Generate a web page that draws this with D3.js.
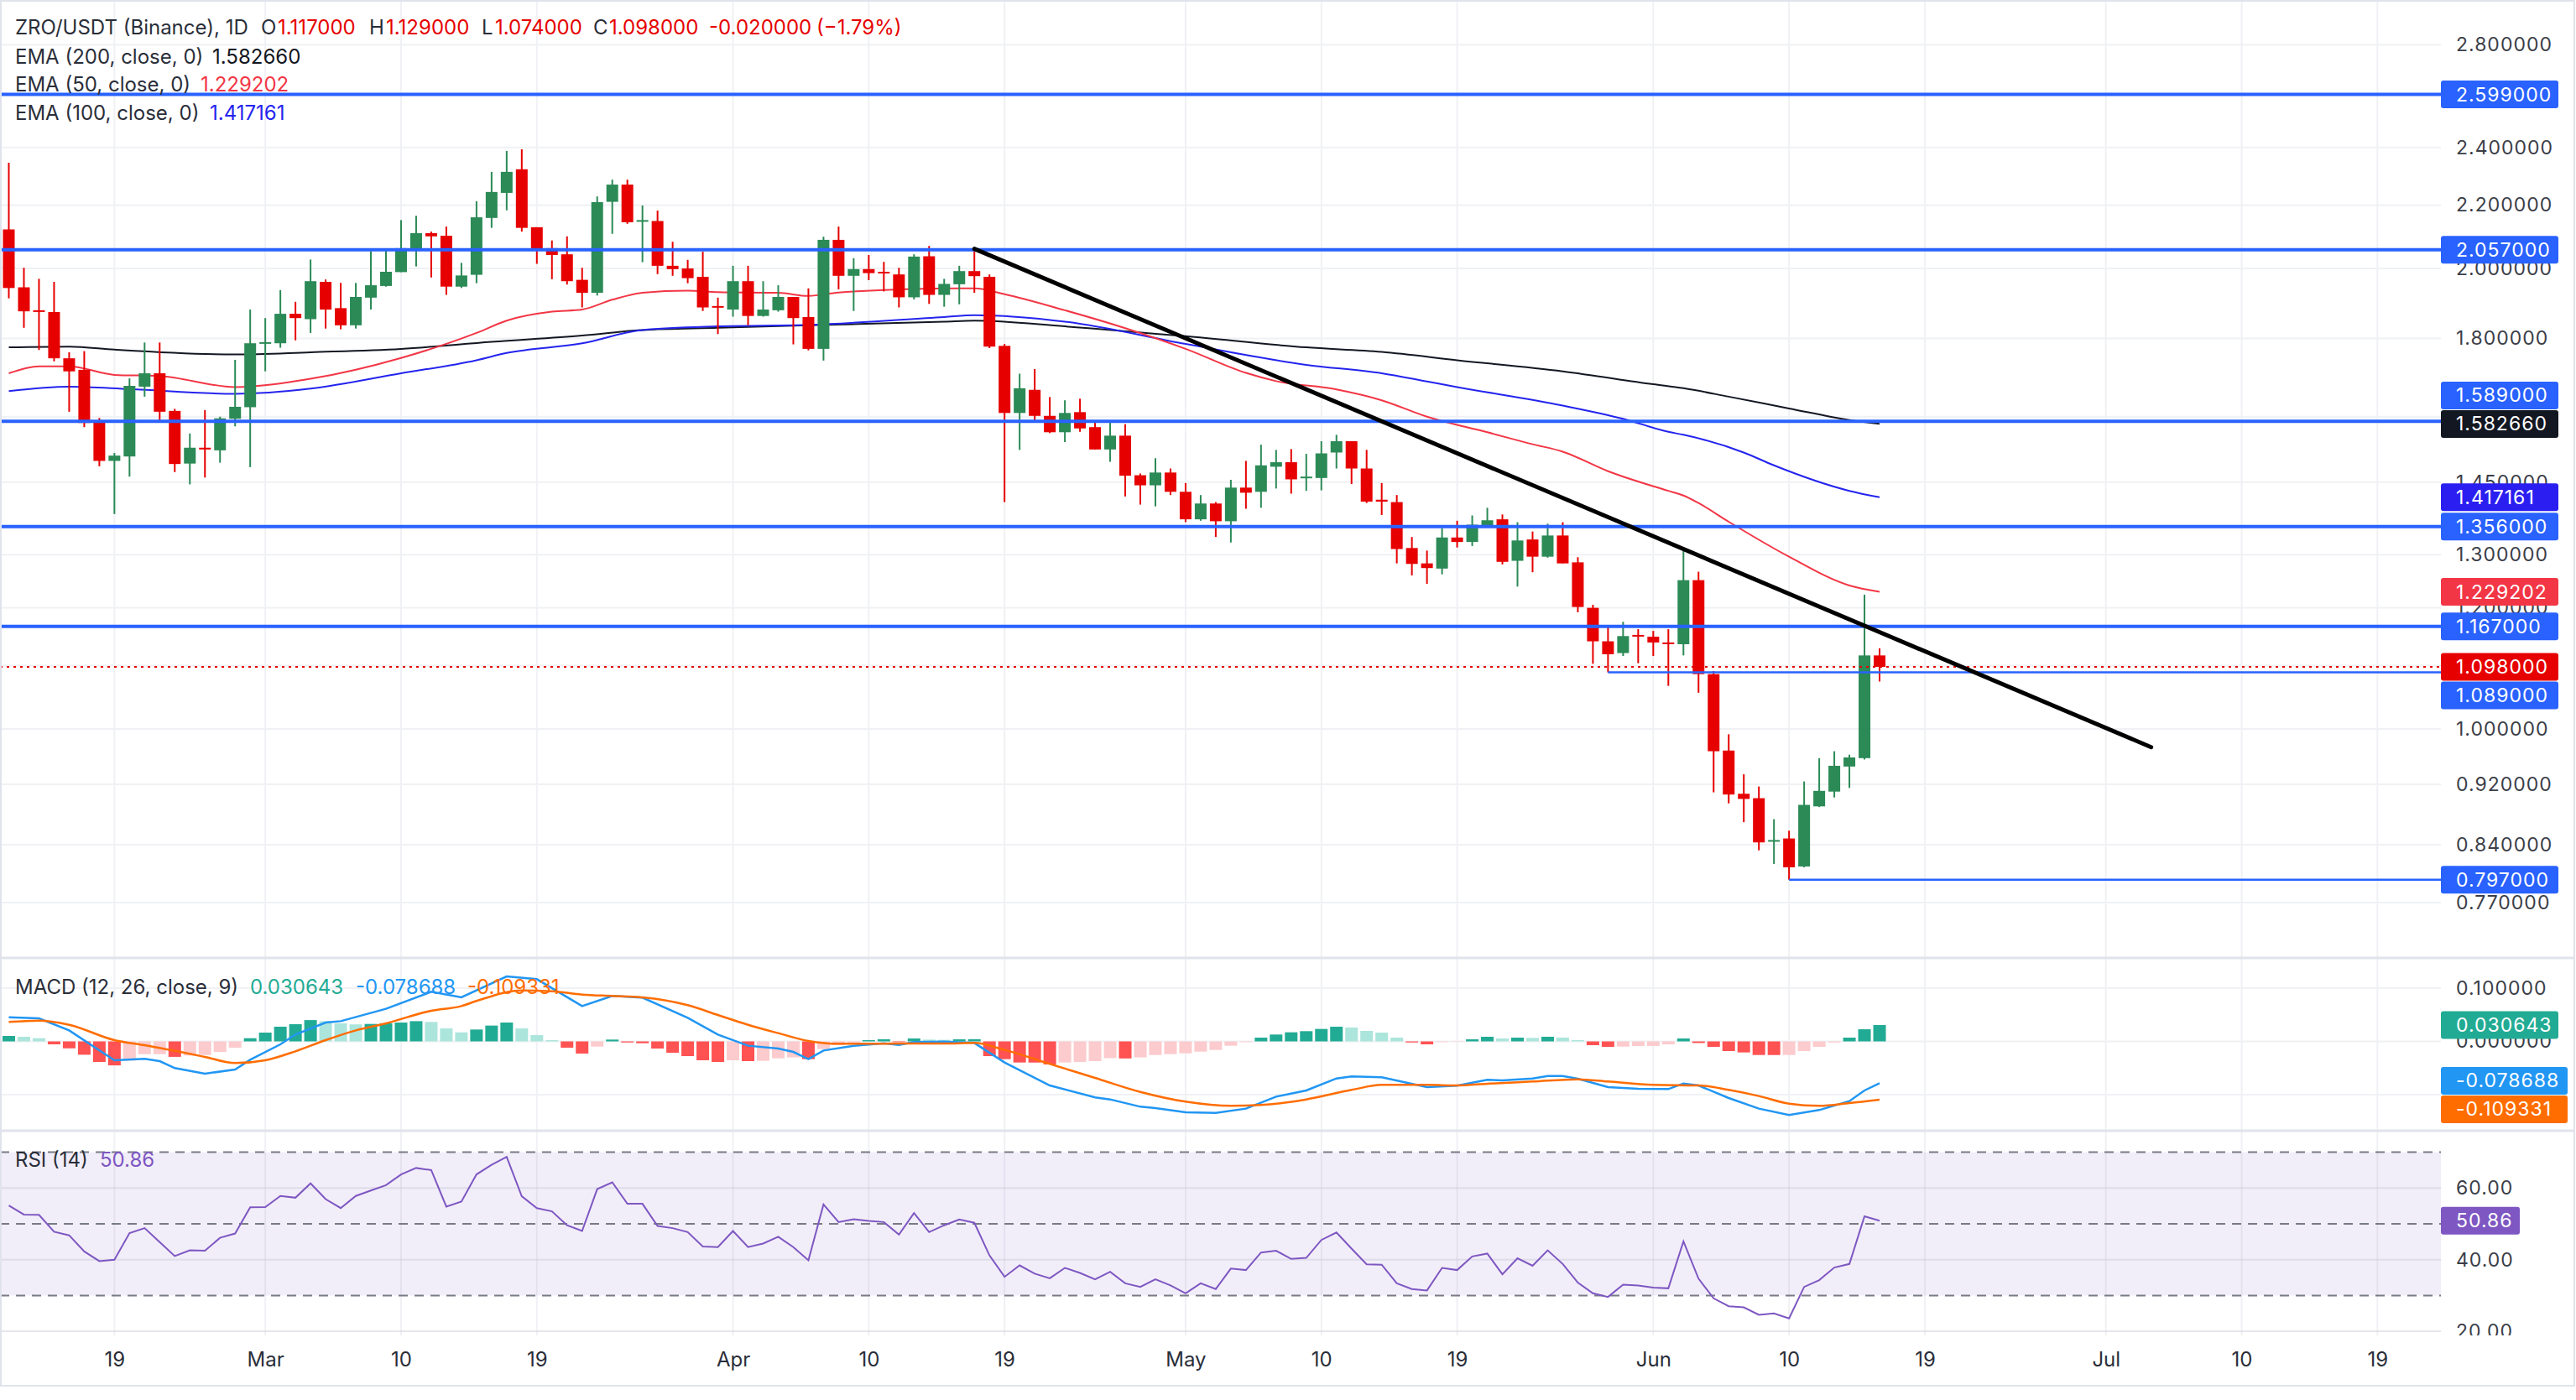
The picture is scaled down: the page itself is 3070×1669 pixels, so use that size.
<!DOCTYPE html>
<html><head><meta charset="utf-8">
<script src="https://cdn.jsdelivr.net/npm/d3@7"></script>
<style>
html,body{margin:0;padding:0;background:#fff;}
svg{display:block;font-family:Inter,"Noto Sans",sans-serif;}
</style></head><body>
<svg id="chart" width="3070" height="1669"></svg>
<script>
// ---------------- DATA ----------------
const startDate = [2025, 1, 12]; // 12 Feb 2025, daily candles
const open  = [2.121,1.944,1.878,1.873,1.747,1.717,1.586,1.497,1.507,1.674,1.708,1.614,1.491,1.527,1.521,1.595,1.623,1.787,1.787,1.868,
1.853,1.960,1.884,1.836,1.914,1.948,1.989,2.060,2.109,2.101,1.946,1.981,2.158,2.241,2.322,2.128,2.062,2.043,1.966,1.928,
2.211,2.269,2.147,2.148,2.008,2.000,1.975,1.890,1.880,1.962,1.862,1.878,1.916,1.859,1.772,2.088,1.978,1.998,1.990,1.982,
1.915,2.037,1.922,1.953,1.992,1.975,1.780,1.609,1.666,1.602,1.563,1.611,1.575,1.523,1.555,1.465,1.443,1.471,1.429,1.371,
1.404,1.367,1.438,1.429,1.484,1.494,1.459,1.459,1.516,1.542,1.480,1.412,1.407,1.313,1.283,1.273,1.334,1.325,1.359,1.371,
1.288,1.330,1.296,1.338,1.285,1.200,1.141,1.121,1.152,1.149,1.139,1.136,1.251,1.086,0.968,0.907,0.901,0.844,0.848,0.813,
0.890,0.910,0.945,0.957,1.117];
const high  = [2.345,2.002,1.969,1.960,1.763,1.766,1.597,1.515,1.695,1.789,1.789,1.619,1.560,1.616,1.600,1.743,1.880,1.856,1.936,1.902,
2.027,1.967,1.957,1.957,2.053,2.056,2.151,2.165,2.114,2.130,2.017,2.213,2.313,2.387,2.393,2.128,2.086,2.099,2.002,2.229,
2.286,2.286,2.199,2.182,2.082,2.026,2.051,1.914,2.008,2.008,1.962,1.950,1.916,1.941,2.098,2.130,2.031,2.041,2.020,2.002,
2.043,2.069,1.969,2.008,2.060,1.982,1.785,1.707,1.719,1.648,1.640,1.644,1.589,1.586,1.582,1.469,1.503,1.480,1.448,1.422,
1.407,1.455,1.497,1.534,1.522,1.524,1.513,1.542,1.557,1.542,1.522,1.448,1.422,1.335,1.308,1.353,1.368,1.379,1.395,1.381,
1.365,1.346,1.362,1.365,1.295,1.2055,1.166,1.175,1.162,1.159,1.162,1.308,1.267,1.091,0.992,0.934,0.917,0.873,0.858,0.924,
0.957,0.967,0.962,1.224,1.129];
const low   = [1.912,1.829,1.769,1.739,1.612,1.575,1.485,1.382,1.462,1.649,1.587,1.472,1.445,1.460,1.493,1.577,1.483,1.713,1.775,1.795,
1.815,1.827,1.825,1.827,1.880,1.946,1.989,2.006,1.973,1.922,1.942,1.956,2.126,2.183,2.114,2.014,1.968,1.952,1.886,1.920,
2.107,2.139,2.019,1.983,1.978,1.956,1.876,1.812,1.860,1.836,1.860,1.874,1.784,1.768,1.741,1.938,1.876,1.965,1.932,1.886,
1.909,1.896,1.888,1.895,1.928,1.774,1.407,1.522,1.588,1.561,1.540,1.564,1.523,1.495,1.419,1.402,1.398,1.422,1.365,1.368,
1.335,1.324,1.393,1.395,1.436,1.425,1.431,1.432,1.480,1.446,1.405,1.380,1.283,1.260,1.244,1.262,1.314,1.317,1.354,1.281,
1.239,1.266,1.294,1.283,1.192,1.103,1.089,1.116,1.104,1.116,1.067,1.117,1.056,0.909,0.894,0.869,0.833,0.816,0.797,0.812,
0.889,0.902,0.915,0.955,1.074];
const close = [1.942,1.875,1.874,1.747,1.713,1.585,1.497,1.509,1.676,1.708,1.612,1.490,1.527,1.523,1.596,1.624,1.787,1.790,1.868,1.856,
1.962,1.880,1.836,1.916,1.950,1.990,2.062,2.109,2.099,1.946,1.979,2.160,2.244,2.313,2.126,2.060,2.041,1.962,1.928,2.210,
2.269,2.144,2.151,2.008,1.998,1.971,1.886,1.886,1.962,1.862,1.880,1.916,1.856,1.772,2.088,1.978,1.998,1.986,1.987,1.915,
2.036,1.922,1.954,1.992,1.977,1.778,1.609,1.670,1.602,1.563,1.609,1.572,1.523,1.555,1.464,1.443,1.471,1.429,1.371,1.404,
1.367,1.438,1.427,1.487,1.494,1.456,1.462,1.514,1.542,1.480,1.408,1.408,1.311,1.282,1.274,1.334,1.325,1.360,1.369,1.286,
1.328,1.296,1.338,1.283,1.2015,1.141,1.119,1.150,1.150,1.139,1.137,1.251,1.086,0.967,0.906,0.900,0.843,0.846,0.812,0.892,
0.911,0.946,0.958,1.117,1.098];

// EMA lines read at sample bars: [bar index, value]
const ema200 = [[0,1.776],[4,1.778],[7,1.770],[15,1.757],[20,1.763],[26,1.772],[32,1.791],[38,1.808],[42,1.823],[47,1.829],[53,1.836],
[62,1.846],[64,1.849],[70,1.833],[78,1.806],[86,1.776],[91,1.764],[96,1.742],[103,1.713],[109,1.680],[111,1.670],[114,1.649],[118,1.620],[122,1.592],[124,1.5827]];
const ema100 = [[0,1.663],[4,1.674],[8,1.668],[15,1.656],[20,1.669],[26,1.708],[31,1.742],[33,1.761],[38,1.787],[42,1.823],[47,1.833],[53,1.837],
[62,1.859],[64,1.864],[70,1.846],[78,1.785],[86,1.730],[91,1.708],[94,1.687],[96,1.673],[103,1.627],[107,1.595],[110,1.564],[111,1.557],[115,1.516],
[117,1.487],[122,1.431],[124,1.4172]];
const ema50 = [[0,1.708],[2,1.726],[4,1.726],[7,1.704],[10,1.701],[15,1.673],[20,1.694],[26,1.748],[31,1.815],[33,1.849],[36,1.874],[38,1.880],
[40,1.908],[42,1.928],[45,1.934],[47,1.930],[51,1.928],[53,1.919],[55,1.929],[63,1.941],[64,1.941],[66,1.924],[70,1.878],[74,1.828],[78,1.772],
[82,1.709],[84,1.688],[88,1.667],[91,1.640],[94,1.600],[98,1.563],[101,1.535],[103,1.518],[106,1.474],[110,1.431],[111,1.421],[112,1.405],
[114,1.366],[118,1.296],[122,1.241],[124,1.2292]];

const hLevels = [2.599, 2.057, 1.589, 1.356, 1.167];
const shortLevels = [[106, 1.089], [118, 0.797]];
const trendLine = [[64, 2.060], [142, 0.973]];
const lastPrice = 1.098;
const priceGrid = [2.8,2.6,2.4,2.2,2.0,1.8,1.6,1.45,1.3,1.2,1.1,1.0,0.92,0.84,0.77];
const priceTickLabels = [2.8,2.4,2.2,2.0,1.8,1.45,1.3,1.2,1.0,0.92,0.84,0.77];

const macdHist = [0.0102,0.0087,0.006,-0.0055,-0.013,-0.025,-0.0386,-0.045,-0.036,-0.024,
-0.024,-0.029,-0.0265,-0.0255,-0.0197,-0.0118,0.006,0.0165,0.0276,0.0323,
0.040,0.038,0.034,0.032,0.0328,0.034,0.0354,0.038,0.0365,0.0244,
0.017,0.0223,0.0297,0.0354,0.0244,0.0118,0.0024,-0.0118,-0.0228,-0.0097,
0.0034,-0.002,-0.0034,-0.0134,-0.0213,-0.0276,-0.0354,-0.0386,-0.0354,-0.037,
-0.0365,-0.0318,-0.030,-0.0333,-0.0144,-0.007,-0.002,0.0024,0.004,-0.0013,
0.0055,0.0034,0.003,0.0039,0.0042,-0.0276,-0.0333,-0.0396,-0.0397,-0.0433,
-0.0396,-0.0386,-0.037,-0.0315,-0.032,-0.030,-0.0255,-0.0239,-0.0223,-0.0192,
-0.016,-0.0081,-0.0013,0.0071,0.0129,0.0171,0.0192,0.0234,0.0276,0.026,
0.0197,0.0165,0.0071,-0.002,-0.0055,-0.0013,-0.0008,0.0039,0.0087,0.0055,
0.0071,0.0065,0.0087,0.0071,0.0024,-0.0071,-0.0102,-0.0097,-0.0087,-0.0085,
-0.0055,0.0055,-0.003,-0.0102,-0.0181,-0.0207,-0.0255,-0.0256,-0.0254,-0.0181,
-0.0102,-0.002,0.0071,0.0228,0.0307];
const macdLine = [[0,0.0454],[2,0.0433],[4,0.0207],[7,-0.0354],[9,-0.0328],[10,-0.037],[11,-0.0501],[13,-0.0606],[15,-0.0528],[16,-0.0344],
[18,-0.0055],[19,0.0129],[21,0.0354],[22,0.038],[25,0.0612],[28,0.0932],[30,0.0827],[33,0.122],[35,0.1168],[38,0.0664],[40,0.0853],[42,0.0822],
[45,0.0444],[47,0.0129],[49,-0.0081],[51,-0.0134],[52,-0.0197],[53,-0.0333],[54,-0.0171],[56,-0.0081],[58,-0.0034],[59,-0.0066],[60,-0.0013],
[62,-0.0003],[64,-0.0029],[66,-0.0396],[69,-0.0827],[72,-0.1052],[73,-0.1089],[75,-0.1226],[76,-0.1252],[78,-0.1331],[80,-0.1341],[82,-0.1262],
[84,-0.1037],[86,-0.0921],[88,-0.0696],[89,-0.0659],[91,-0.0675],[94,-0.0858],[96,-0.0832],[98,-0.0722],[99,-0.0732],[101,-0.0696],[102,-0.0648],
[103,-0.0648],[104,-0.07],[106,-0.0858],[108,-0.089],[110,-0.0895],[111,-0.079],[112,-0.0827],[114,-0.1063],[116,-0.1262],[118,-0.1383],
[120,-0.1289],[122,-0.1121],[123,-0.0921],[124,-0.0787]];
const signalLine = [[0,0.0365],[2,0.0391],[4,0.0312],[7,0.0024],[9,-0.0071],[13,-0.0291],[15,-0.0407],[17,-0.0354],[19,-0.0186],[21,0.0024],
[23,0.0207],[25,0.0339],[28,0.0575],[30,0.0664],[31,0.0759],[34,0.0958],[36,0.0942],[38,0.0879],[40,0.0853],[42,0.0827],[45,0.068],[47,0.0496],
[49,0.0312],[51,0.0155],[53,0.0008],[55,-0.0045],[57,-0.0045],[59,-0.0039],[62,-0.0039],[64,-0.0029],[66,-0.016],[69,-0.0423],[72,-0.0685],
[75,-0.0948],[78,-0.1131],[81,-0.121],[83,-0.1194],[86,-0.1089],[89,-0.0911],[91,-0.0816],[94,-0.0816],[96,-0.0827],[98,-0.0795],[101,-0.0753],
[104,-0.0711],[106,-0.0753],[109,-0.0816],[112,-0.0827],[114,-0.0911],[116,-0.1026],[118,-0.1168],[120,-0.121],[122,-0.1157],[124,-0.1093]];

const rsi = [55.1,52.6,52.5,47.8,46.8,42.3,39.6,40.0,47.4,48.8,
44.9,41.0,42.6,42.5,46.1,47.3,54.6,54.7,57.8,57.3,
61.3,56.9,54.4,57.8,59.3,60.8,63.8,65.6,65.0,54.8,
56.2,63.8,66.5,68.7,57.7,54.4,53.5,49.6,48.0,59.7,
61.6,55.6,55.6,49.4,48.8,47.7,43.7,43.5,48.0,43.5,
44.5,46.4,43.5,39.8,55.4,50.5,51.3,50.8,50.5,47.0,
53.0,47.7,49.6,51.2,50.3,41.2,35.2,38.4,36.1,34.8,
37.7,36.3,34.5,36.6,33.4,32.4,34.5,32.8,30.6,33.4,
31.8,37.5,37.1,42.0,42.5,40.2,40.5,45.5,47.6,43.1,
38.7,38.6,33.4,31.8,31.4,37.7,37.1,40.9,41.7,35.9,
40.4,38.3,42.6,38.8,33.6,30.6,29.6,33.0,32.8,32.2,
32.0,45.1,34.7,29.2,27.0,26.7,24.6,25.0,23.6,32.4,
34.3,37.8,38.8,52.1,50.86];

const timeTicks = [[2,19],[3,1],[3,10],[3,19],[4,1],[4,10],[4,19],[5,1],[5,10],[5,19],[6,1],[6,10],[6,19],[7,1],[7,10],[7,19]];
const monthNames = ["Jan","Feb","Mar","Apr","May","Jun","Jul","Aug","Sep","Oct","Nov","Dec"];

// ---------------- LAYOUT ----------------
const W = 3070, H = 1669, plotR = 2909;
const mainTop = 0, mainBot = 1142, macdTop = 1142, macdBot = 1348, rsiTop = 1348, rsiBot = 1592;
const GREEN = "#2b8a56", RED = "#e60000", LINEBLUE = "#2962ff";
const TXT = "#2a2e39";

const svg = d3.select("#chart");
svg.append("rect").attr("width", W).attr("height", H).attr("fill", "#fff");

const dateOf = i => new Date(Date.UTC(startDate[0], startDate[1], startDate[2] + i));
const x = d3.scaleUtc().domain([dateOf(0), dateOf(open.length - 1)]).range([10.5, 10.5 + 17.98 * (open.length - 1)]);
const xi = i => x(dateOf(i));
const y = d3.scaleLog().domain([Math.exp((869 - mainBot) / 792), Math.exp(869 / 792)]).range([mainBot, mainTop]);
const yM = d3.scaleLinear().domain([-0.1, 0.1]).range([1305, 1178]);
const yR = d3.scaleLinear().domain([30, 70]).range([1544.4, 1373.6]);

const defs = svg.append("defs");
function clip(id, x0, y0, w, h) {
  defs.append("clipPath").attr("id", id).append("rect").attr("x", x0).attr("y", y0).attr("width", w).attr("height", h);
  return `url(#${id})`;
}
const cMain = clip("cmain", 0, mainTop, plotR, mainBot - mainTop);
const cMacd = clip("cmacd", 0, macdTop, plotR, macdBot - macdTop);
const cRsi = clip("crsi", 0, rsiTop, plotR, rsiBot - rsiTop);
const cRsiAx = clip("crsiax", plotR, rsiTop, W - plotR, rsiBot - rsiTop);

// ---------- grid ----------
const grid = svg.append("g");
const tickDates = timeTicks.map(([m, d]) => new Date(Date.UTC(2025, m - 1, d)));
grid.selectAll("line.v").data(tickDates).enter().append("line")
  .attr("x1", d => x(d)).attr("x2", d => x(d)).attr("y1", 0).attr("y2", rsiBot)
  .attr("stroke", "#f0f1f4").attr("stroke-width", 2);
grid.selectAll("line.hp").data(priceGrid).enter().append("line")
  .attr("x1", 0).attr("x2", plotR).attr("y1", d => y(d)).attr("y2", d => y(d))
  .attr("stroke", "#f0f1f4").attr("stroke-width", 2);
grid.selectAll("line.hm").data([0.1, 0, -0.1]).enter().append("line")
  .attr("x1", 0).attr("x2", plotR).attr("y1", d => yM(d)).attr("y2", d => yM(d))
  .attr("stroke", "#f0f1f4").attr("stroke-width", 2);

// ---------- main pane ----------
const main = svg.append("g").attr("clip-path", cMain);
const lineGen = (ys) => d3.line().x(d => xi(d[0])).y(d => ys(d[1])).curve(d3.curveMonotoneX);
main.append("path").datum(ema200).attr("d", lineGen(y)).attr("fill", "none").attr("stroke", "#131722").attr("stroke-width", 2);
main.append("path").datum(ema100).attr("d", lineGen(y)).attr("fill", "none").attr("stroke", "#2424ee").attr("stroke-width", 2);
main.append("path").datum(ema50).attr("d", lineGen(y)).attr("fill", "none").attr("stroke", "#f23645").attr("stroke-width", 2);

const idx = d3.range(open.length);
const cg = main.append("g");
cg.selectAll("line.w").data(idx).enter().append("line")
  .attr("x1", i => xi(i)).attr("x2", i => xi(i))
  .attr("y1", i => y(high[i])).attr("y2", i => y(low[i]))
  .attr("stroke", i => close[i] >= open[i] ? GREEN : RED).attr("stroke-width", 2);
cg.selectAll("rect.b").data(idx).enter().append("rect")
  .attr("x", i => xi(i) - 7).attr("width", 14)
  .attr("y", i => y(Math.max(open[i], close[i])))
  .attr("height", i => Math.max(2, y(Math.min(open[i], close[i])) - y(Math.max(open[i], close[i]))))
  .attr("fill", i => close[i] >= open[i] ? GREEN : RED);

// current price dotted line
main.append("line").attr("x1", 0).attr("x2", plotR).attr("y1", y(lastPrice)).attr("y2", y(lastPrice))
  .attr("stroke", RED).attr("stroke-width", 2).attr("stroke-dasharray", "3,5");
// horizontal levels
main.selectAll("line.lv").data(hLevels).enter().append("line")
  .attr("x1", 0).attr("x2", plotR).attr("y1", d => y(d)).attr("y2", d => y(d))
  .attr("stroke", LINEBLUE).attr("stroke-width", 4);
main.selectAll("line.sl").data(shortLevels).enter().append("line")
  .attr("x1", d => xi(d[0])).attr("x2", plotR).attr("y1", d => y(d[1])).attr("y2", d => y(d[1]))
  .attr("stroke", LINEBLUE).attr("stroke-width", 2.5);
// trend line
main.append("line")
  .attr("x1", xi(trendLine[0][0])).attr("y1", y(trendLine[0][1]))
  .attr("x2", xi(trendLine[1][0])).attr("y2", y(trendLine[1][1]))
  .attr("stroke", "#000").attr("stroke-width", 5).attr("stroke-linecap", "round");

// ---------- MACD pane ----------
const mp = svg.append("g").attr("clip-path", cMacd);
mp.selectAll("rect.h").data(idx).enter().append("rect")
  .attr("x", i => xi(i) - 7.5).attr("width", 15)
  .attr("y", i => Math.min(yM(0), yM(macdHist[i])))
  .attr("height", i => Math.abs(yM(macdHist[i]) - yM(0)))
  .attr("fill", i => {
    const v = macdHist[i], p = i > 0 ? macdHist[i - 1] : v;
    if (v >= 0) return v >= p ? "#22ab94" : "#ace5dc";
    return v < p ? "#ff5252" : "#fccbcd";
  });
mp.append("path").datum(macdLine).attr("d", d3.line().x(d => xi(d[0])).y(d => yM(d[1])))
  .attr("fill", "none").attr("stroke", "#2196f3").attr("stroke-width", 2.5);
mp.append("path").datum(signalLine).attr("d", lineGen(yM))
  .attr("fill", "none").attr("stroke", "#ff6d00").attr("stroke-width", 2.5);

// ---------- RSI pane ----------
const rp = svg.append("g").attr("clip-path", cRsi);
rp.append("rect").attr("x", 0).attr("width", plotR).attr("y", yR(70)).attr("height", yR(30) - yR(70)).attr("fill", "rgba(126,87,194,0.1)");
rp.selectAll("line.rg").data([60, 40, 20]).enter().append("line")
  .attr("x1", 0).attr("x2", plotR).attr("y1", d => yR(d)).attr("y2", d => yR(d))
  .attr("stroke", "rgba(200,200,215,0.45)").attr("stroke-width", 2);
rp.selectAll("line.rd").data([70, 50, 30]).enter().append("line")
  .attr("x1", 0).attr("x2", plotR).attr("y1", d => yR(d)).attr("y2", d => yR(d))
  .attr("stroke", "#787b86").attr("stroke-width", 2).attr("stroke-dasharray", "11,8");
rp.append("path").datum(rsi).attr("d", d3.line().x((d, i) => xi(i)).y(d => yR(d)))
  .attr("fill", "none").attr("stroke", "#7e57c2").attr("stroke-width", 2);

// ---------- frame and separators ----------
svg.append("rect").attr("x", 1).attr("y", 1).attr("width", W - 3).attr("height", 1651)
  .attr("fill", "none").attr("stroke", "#e0e3eb").attr("stroke-width", 2);
svg.selectAll("line.sep").data([macdTop, rsiTop]).enter().append("line")
  .attr("x1", 0).attr("x2", W - 2).attr("y1", d => d).attr("y2", d => d)
  .attr("stroke", "#e0e3eb").attr("stroke-width", 3);

// ---------- axes ----------
const axStyle = g => {
  g.select(".domain").remove();
  g.selectAll("text").attr("fill", "#3b3e48").attr("font-size", 23).attr("letter-spacing", "1px")
    .attr("font-family", "Inter, 'Noto Sans', sans-serif");
};
svg.append("g").attr("transform", `translate(${plotR},0)`)
  .call(d3.axisRight(y).tickValues(priceTickLabels).tickFormat(d3.format(".6f")).tickSize(0).tickPadding(18))
  .call(axStyle);
svg.append("g").attr("transform", `translate(${plotR},0)`)
  .call(d3.axisRight(yM).tickValues([0.1, 0]).tickFormat(d3.format(".6f")).tickSize(0).tickPadding(18))
  .call(axStyle);
svg.append("g").attr("clip-path", cRsiAx).append("g").attr("transform", `translate(${plotR},0)`)
  .call(d3.axisRight(yR).tickValues([60, 40, 20]).tickFormat(d3.format(".2f")).tickSize(0).tickPadding(18))
  .call(axStyle);
svg.append("g").attr("transform", `translate(0,${rsiBot + 4})`)
  .call(d3.axisBottom(x).tickValues(tickDates).tickSize(0).tickPadding(16)
    .tickFormat(d => d.getUTCDate() === 1 ? monthNames[d.getUTCMonth()] : String(d.getUTCDate())))
  .call(g => { g.select(".domain").remove();
    g.selectAll("text").attr("fill", "#2a2e39").attr("font-size", 24).attr("font-family", "Inter, 'Noto Sans', sans-serif"); });

// ---------- badges ----------
function badges(list, gap) {
  const placed = list.filter(d => d.fixed);
  list.filter(d => !d.fixed).forEach(d => {
    placed.forEach(p => {
      if (Math.abs(d.y - p.y) < gap) d.y = d.y < p.y ? p.y - gap : p.y + gap;
    });
    placed.push(d);
  });
  const g = svg.append("g");
  list.forEach(d => {
    const w = d.w || 140;
    g.append("rect").attr("x", plotR).attr("y", d.y - 16.5).attr("width", w).attr("height", 33).attr("rx", 3).attr("fill", d.color);
    g.append("text").attr("x", plotR + 18).attr("y", d.y).attr("dominant-baseline", "central")
      .attr("fill", "#fff").attr("font-size", 23).attr("letter-spacing", "1px").text(d.text);
  });
}
const f6 = d3.format(".6f");
badges([
  {y: y(1.58266), text: "1.582660", color: "#131722", fixed: true},
  {y: y(1.417161), text: "1.417161", color: "#2a1ff0", fixed: true},
  {y: y(1.229202), text: "1.229202", color: "#f23645", fixed: true},
  {y: y(lastPrice), text: f6(lastPrice), color: RED, fixed: true},
  ...hLevels.map(v => ({y: y(v), text: f6(v), color: LINEBLUE})),
  ...shortLevels.map(d => ({y: y(d[1]), text: f6(d[1]), color: LINEBLUE}))
], 34);
badges([
  {y: yM(0.030643), text: "0.030643", color: "#22ab94", fixed: true},
  {y: yM(-0.078688) - 3, text: "-0.078688", color: "#2196f3", w: 151, fixed: true},
  {y: yM(-0.109331), text: "-0.109331", color: "#ff6d00", w: 151}
], 34);
badges([{y: yR(50.86), text: "50.86", color: "#7e57c2", w: 94, fixed: true}], 34);

// ---------- legends ----------
const lg = svg.append("g").attr("font-size", 24);
function txt(xp, yp, s, c) { lg.append("text").attr("x", xp).attr("y", yp).attr("fill", c).attr("dominant-baseline", "central").text(s); }
txt(18, 32, "ZRO/USDT (Binance), 1D", TXT);
txt(311, 32, "O", TXT); txt(331, 32, "1.117000", RED);
txt(440, 32, "H", TXT); txt(460, 32, "1.129000", RED);
txt(574, 32, "L", TXT); txt(590, 32, "1.074000", RED);
txt(707, 32, "C", TXT); txt(726, 32, "1.098000", RED);
txt(845, 32, "-0.020000", RED); txt(973, 32, "(\u22121.79%)", RED);
txt(18, 67, "EMA (200, close, 0)", TXT); txt(253, 67, "1.582660", "#131722");
txt(18, 100, "EMA (50, close, 0)", TXT); txt(239, 100, "1.229202", "#f23645");
txt(18, 134, "EMA (100, close, 0)", TXT); txt(250, 134, "1.417161", "#2424ee");
txt(18, 1176, "MACD (12, 26, close, 9)", TXT); txt(298, 1176, "0.030643", "#22ab94");
txt(424, 1176, "-0.078688", "#2196f3"); txt(557, 1176, "-0.109331", "#ff6d00");
txt(18, 1382, "RSI (14)", TXT); txt(119, 1382, "50.86", "#7e57c2");
</script>
</body></html>
